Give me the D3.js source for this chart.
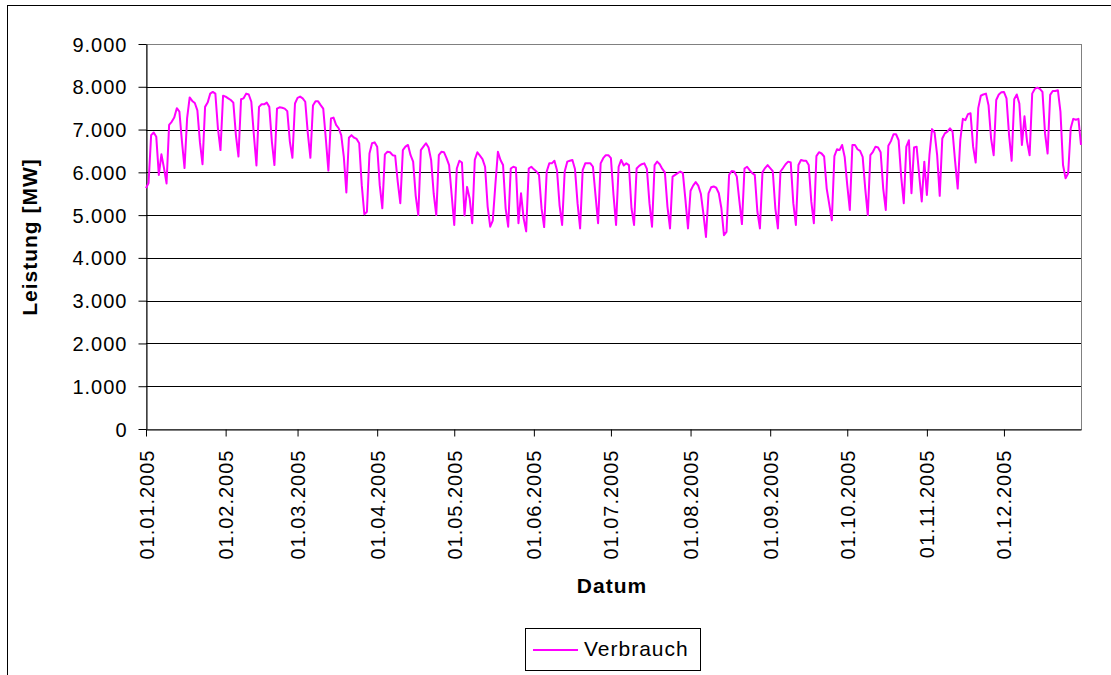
<!DOCTYPE html>
<html>
<head>
<meta charset="utf-8">
<script src="https://cdn.jsdelivr.net/npm/d3@7"></script>
<style>
  body { margin: 0; background: #fff; }
  svg { display: block; font-family: Arial, "Liberation Sans", sans-serif; }
</style>
</head>
<body>
<script>
// daily load values 2005 (MW), one array per month
const jan = [5630, 5750, 6870, 6930, 6830, 5940, 6420, 6100, 5740, 7110, 7180, 7280, 7500, 7420, 6720, 6100, 7260, 7750, 7670, 7620, 7450, 6700, 6190, 7530, 7630, 7840, 7880, 7840, 7030, 6520, 7790];
const feb = [7770, 7730, 7690, 7630, 6870, 6370, 7710, 7730, 7840, 7820, 7650, 6870, 6160, 7530, 7590, 7590, 7630, 7530, 6720, 6170, 7490, 7520, 7510, 7490, 7430, 6720, 6340, 7610];
const mar = [7740, 7770, 7730, 7650, 6910, 6340, 7560, 7660, 7660, 7570, 7490, 6790, 6040, 7260, 7280, 7110, 7030, 6870, 6370, 5530, 6810, 6870, 6810, 6780, 6680, 5700, 5020, 5080, 6440, 6680, 6700];
const apr = [6600, 5700, 5160, 6420, 6480, 6470, 6400, 6390, 5780, 5280, 6520, 6600, 6640, 6400, 6250, 5450, 5000, 6520, 6600, 6680, 6580, 6290, 5500, 5000, 6400, 6480, 6470, 6330, 6170, 5470];
const may = [4770, 6090, 6270, 6230, 4990, 5660, 5390, 4810, 6290, 6470, 6390, 6310, 6130, 5200, 4730, 4870, 5700, 6480, 6290, 6170, 5160, 4730, 6090, 6130, 6110, 4810, 5510, 4930, 4620, 6090, 6130];
const jun = [6070, 6020, 5940, 5150, 4720, 6020, 6210, 6210, 6270, 6050, 5230, 4770, 6020, 6250, 6270, 6290, 6080, 5280, 4690, 6050, 6210, 6210, 6210, 6130, 5460, 4810, 6210, 6330, 6400, 6400];
const jul = [6330, 5470, 4770, 6130, 6290, 6160, 6210, 6170, 5160, 4770, 6090, 6150, 6190, 6210, 6080, 5280, 4730, 6170, 6250, 6190, 6080, 6000, 5200, 4690, 5900, 5940, 5980, 6020, 5980, 5360, 4690];
const aug = [5570, 5690, 5770, 5690, 5500, 5030, 4490, 5510, 5650, 5670, 5640, 5510, 5160, 4530, 4610, 5940, 6030, 6020, 5900, 5330, 4790, 6090, 6130, 6050, 5980, 5940, 5090, 4690, 6000, 6100, 6170];
const sep = [6100, 6030, 5160, 4690, 6020, 6100, 6190, 6250, 6230, 5280, 4770, 6170, 6290, 6270, 6270, 6170, 5320, 4810, 6380, 6470, 6440, 6370, 5620, 5250, 4880, 6380, 6540, 6520, 6640, 6360];
const oct = [5700, 5120, 6640, 6640, 6540, 6500, 6360, 5620, 5000, 6400, 6480, 6600, 6580, 6470, 5620, 5120, 6620, 6730, 6890, 6890, 6750, 5900, 5280, 6600, 6750, 5510, 6580, 6600, 5940, 5320, 6250];
const nov = [5470, 6400, 7010, 6930, 6400, 5450, 6790, 6910, 6950, 7030, 6950, 6250, 5620, 6750, 7250, 7220, 7360, 7380, 6600, 6230, 7500, 7790, 7820, 7840, 7570, 6790, 6400, 7690, 7820, 7870];
const dec = [7880, 7730, 6870, 6270, 7710, 7820, 7610, 6640, 7310, 6720, 6400, 7840, 7950, 7980, 7950, 7880, 6910, 6440, 7810, 7900, 7900, 7920, 7420, 6170, 5860, 5980, 7030, 7250, 7230, 7250, 6640];

const yTicks = [0, 1000, 2000, 3000, 4000, 5000, 6000, 7000, 8000, 9000];
const xTickLabels = ["01.01.2005", "01.02.2005", "01.03.2005", "01.04.2005", "01.05.2005", "01.06.2005",
  "01.07.2005", "01.08.2005", "01.09.2005", "01.10.2005", "01.11.2005", "01.12.2005"];
const seriesName = "Verbrauch";

const verbrauch = [jan, feb, mar, apr, may, jun, jul, aug, sep, oct, nov, dec].flat();
const start = new Date(Date.UTC(2005, 0, 1));
const dates = verbrauch.map((d, i) => d3.utcDay.offset(start, i));
const parseDate = d3.utcParse("%d.%m.%Y");
const fmtDate = d3.utcFormat("%d.%m.%Y");
const de = d3.formatLocale({decimal: ",", thousands: ".", grouping: [3], currency: ["", " €"]});
const fmtY = de.format(",");

const width = 1111, height = 675;
const plot = {left: 146, top: 44, right: 1081, bottom: 429};

const svg = d3.select("body").append("svg")
  .attr("width", width)
  .attr("height", height);

// outer chart frame
svg.append("rect")
  .attr("x", 7.5).attr("y", 5.5)
  .attr("width", 1120).attr("height", 700)
  .attr("fill", "#fff").attr("stroke", "#000").attr("stroke-width", 1);

const x = d3.scaleUtc()
  .domain([start, dates[dates.length - 1]])
  .range([plot.left, plot.right]);
const y = d3.scaleLinear()
  .domain([0, 9000])
  .range([plot.bottom, plot.top]);

// plot area border (grey)
svg.append("rect")
  .attr("x", plot.left + 0.5).attr("y", plot.top + 0.5)
  .attr("width", plot.right - plot.left).attr("height", plot.bottom - plot.top)
  .attr("fill", "none").attr("stroke", "#808080");

// gridlines
svg.append("g").selectAll("line")
  .data(yTicks.filter(d => d > 0 && d < 9000))
  .enter().append("line")
    .attr("x1", plot.left).attr("x2", plot.right)
    .attr("y1", d => Math.round(y(d)) + 0.5)
    .attr("y2", d => Math.round(y(d)) + 0.5)
    .attr("stroke", "#000").attr("stroke-width", 1);

// y axis
const gy = svg.append("g")
  .attr("transform", "translate(" + (plot.left + 0.5) + ",0)")
  .call(d3.axisLeft(y).tickValues(yTicks).tickFormat(fmtY).tickSize(8).tickSizeOuter(0).tickPadding(11));
gy.select(".domain").attr("stroke", "#000");
gy.selectAll(".tick line").attr("stroke", "#000");
gy.selectAll(".tick text")
  .attr("font-size", 20).attr("letter-spacing", 1)
  .attr("font-family", "Arial, 'Liberation Sans', sans-serif")
  .attr("fill", "#000").attr("dy", "0.35em");

// x axis
const gx = svg.append("g")
  .attr("transform", "translate(0," + (plot.bottom + 0.5) + ")")
  .call(d3.axisBottom(x).tickValues(xTickLabels.map(parseDate)).tickFormat(fmtDate).tickSize(7).tickSizeOuter(0));
gx.select(".domain").attr("stroke", "#000");
gx.selectAll(".tick line").attr("stroke", "#000");
gx.selectAll(".tick text")
  .attr("font-size", 20).attr("letter-spacing", 1)
  .attr("font-family", "Arial, 'Liberation Sans', sans-serif")
  .attr("fill", "#000")
  .attr("text-anchor", "end")
  .attr("transform", "rotate(-90)")
  .attr("x", -20).attr("y", 0).attr("dy", "0.35em");

// series line
const line = d3.line()
  .x((d, i) => x(dates[i]))
  .y(d => y(d));
svg.append("path")
  .datum(verbrauch)
  .attr("d", line)
  .attr("fill", "none")
  .attr("stroke", "#FF00FF")
  .attr("stroke-width", 2)
  .attr("stroke-linejoin", "round");

// axis titles
svg.append("text")
  .attr("x", 612).attr("y", 593)
  .attr("text-anchor", "middle")
  .attr("font-size", 21).attr("font-weight", "bold").attr("letter-spacing", 1)
  .text("Datum");
svg.append("text")
  .attr("transform", "translate(37,237) rotate(-90)")
  .attr("text-anchor", "middle")
  .attr("font-size", 21).attr("font-weight", "bold").attr("letter-spacing", 1)
  .text("Leistung [MW]");

// legend
const lg = svg.append("g");
lg.append("rect")
  .attr("x", 525.5).attr("y", 628.5)
  .attr("width", 175).attr("height", 42)
  .attr("fill", "#fff").attr("stroke", "#000");
lg.append("line")
  .attr("x1", 533).attr("x2", 578)
  .attr("y1", 650).attr("y2", 650)
  .attr("stroke", "#FF00FF").attr("stroke-width", 2);
lg.append("text")
  .attr("x", 584).attr("y", 656)
  .attr("font-size", 21).attr("letter-spacing", 1)
  .text(seriesName);
</script>
</body>
</html>
